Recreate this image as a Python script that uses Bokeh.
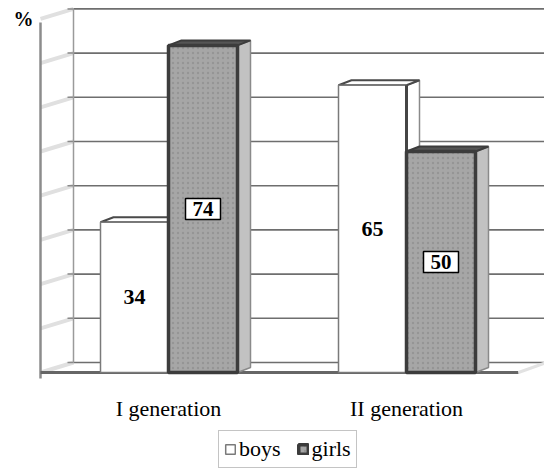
import numpy as np
from bokeh.plotting import figure
from bokeh.models import Range1d, Legend, LegendItem
from bokeh.core.properties import value
from bokeh.embed import file_html
from bokeh.resources import INLINE

# ---------------- data ----------------
categories = ["I generation", "II generation"]
series_names = ["boys", "girls"]
boys = [34, 65]
girls = [74, 50]
grid_ticks = [0, 10, 20, 30, 40, 50, 60, 70, 80]
unit_label = "%"

# ---------------- layout constants (pixels) ----------------
W, H = 544, 468
PX_PER_CAT = 238.0       # distance between category centres
PX_PER_PCT = 4.42        # pixels per percent
CAT0_PX = 168.0          # x of first category centre
ZERO_PY = 372.0          # y of value 0

x_start = 1 - CAT0_PX / PX_PER_CAT
x_end = x_start + W / PX_PER_CAT
y_start = (ZERO_PY - H) / PX_PER_PCT
y_end = ZERO_PY / PX_PER_PCT


def X(px):
    return x_start + px / PX_PER_CAT


def Y(py):
    return (ZERO_PY - py) / PX_PER_PCT


FONT = value("Liberation Serif")

p = figure(width=W, height=H, output_backend="svg", toolbar_location=None,
           x_range=Range1d(x_start, x_end), y_range=Range1d(y_start, y_end),
           min_border=0)
p.outline_line_color = None
p.grid.visible = False
p.axis.visible = False
p.background_fill_color = "white"
p.border_fill_color = "white"

# ---------------- walls ----------------
wall_dy = Y(362) - Y(372)
x_front = X(40)
x_back = X(73)
x_right = X(560)
ticks = np.array(grid_ticks, dtype=float)
n = len(ticks)

# faded slanted lines on the left wall
p.segment(x0=[x_front] * n, y0=ticks, x1=[x_back] * n, y1=ticks + wall_dy,
          line_color="#e0e0e0", line_width=4)
# back wall gridlines
p.segment(x0=[x_back] * n, y0=ticks + wall_dy, x1=[x_right] * n, y1=ticks + wall_dy,
          line_color="#6e6e6e", line_width=1.6)
# small tick marks at back wall left
p.segment(x0=[X(67)] * n, y0=ticks + wall_dy, x1=[x_back] * n, y1=ticks + wall_dy,
          line_color="#8a8a8a", line_width=1.5)
# back wall left edge
p.segment(x0=[x_back], y0=[ticks[0] + wall_dy], x1=[x_back], y1=[ticks[-1] + wall_dy],
          line_color="#9a9a9a", line_width=1.5)
# front left edge (axis)
p.segment(x0=[x_front], y0=[Y(378)], x1=[x_front], y1=[Y(22)],
          line_color="#8c8c8c", line_width=2.5)
# floor front edge
p.segment(x0=[x_front], y0=[0], x1=[X(518)], y1=[0], line_color="#666666", line_width=3)
p.segment(x0=[X(518)], y0=[0], x1=[X(546)], y1=[wall_dy], line_color="#e2e2e2", line_width=3)

# ---------------- 3D bars ----------------
cx = np.arange(1, len(categories) + 1, dtype=float)
bw_boys = 68 / PX_PER_CAT
bw_girls = 69 / PX_PER_CAT
dx = 13 / PX_PER_CAT
dy = 5 / PX_PER_PCT


def draw_bar_set(left, right, vals, front, side, top):
    vals = np.asarray(vals, dtype=float)
    side_xs = [[r, r + dx, r + dx, r] for r in right]
    side_ys = [[0, dy, v + dy, v] for v in vals]
    p.patches(side_xs, side_ys, **side)
    top_xs = [[l, l + dx, r + dx, r] for l, r in zip(left, right)]
    top_ys = [[v, v + dy, v + dy, v] for v in vals]
    p.patches(top_xs, top_ys, **top)
    return p.quad(left=left, right=right, bottom=0, top=vals, **front)


boys_left = cx - bw_boys
boys_right = cx
girls_left = cx
girls_right = cx + bw_girls

boys_front = draw_bar_set(boys_left, boys_right, boys,
                          front=dict(fill_color="white", line_color="#7a7a7a", line_width=1.5),
                          side=dict(fill_color="white", line_color="#8a8a8a", line_width=1.5),
                          top=dict(fill_color="white", line_color="#4a4a4a", line_width=2))
# dark right edge of boys front face
p.segment(x0=boys_right, y0=[0] * len(boys), x1=boys_right, y1=boys,
          line_color="#454545", line_width=3)

girls_front = draw_bar_set(girls_left, girls_right, girls,
                           front=dict(fill_color="#a6a6a6", line_color="#3c3c3c", line_width=3.5,
                                      hatch_pattern="dot", hatch_color="#959595", hatch_scale=5,
                                      hatch_weight=1.2),
                           side=dict(fill_color="#c2c2c2", line_color="#8a8a8a", line_width=1.5),
                           top=dict(fill_color="#555555", line_color="#3c3c3c", line_width=2))

# ---------------- value labels ----------------
boys_lbl_x = cx - bw_boys / 2
girls_lbl_x = cx + bw_girls / 2
p.text(x=boys_lbl_x, y=np.array(boys) / 2, text=[str(v) for v in boys],
       text_font=FONT, text_font_style="bold", text_font_size="22px",
       text_align="center", text_baseline="middle", text_color="black")
p.rect(x=girls_lbl_x, y=np.array(girls) / 2, width=35, height=21,
       width_units="screen", height_units="screen",
       fill_color="white", line_color="black", line_width=1.5)
p.text(x=girls_lbl_x, y=np.array(girls) / 2, text=[str(v) for v in girls],
       text_font=FONT, text_font_style="bold", text_font_size="21px",
       text_align="center", text_baseline="middle", text_color="black")

# "%" label
p.text(x=[X(23)], y=[Y(18)], text=[unit_label], text_font=FONT, text_font_style="bold",
       text_font_size="20px", text_align="center", text_baseline="middle", text_color="black")

# ---------------- category labels ----------------
p.text(x=cx, y=[Y(408)] * len(cx), text=categories, text_font=FONT,
       text_font_size="22px", text_align="center", text_baseline="alphabetic",
       text_color="black")

# ---------------- legend ----------------
legend = Legend(items=[LegendItem(label=series_names[0], renderers=[boys_front], index=0),
                       LegendItem(label=series_names[1], renderers=[girls_front], index=0)],
                orientation="horizontal", location=(218, 0),
                label_text_font="Liberation Serif", label_text_font_size="22px",
                label_text_color="black", glyph_width=12, glyph_height=12,
                label_standoff=3, spacing=16, padding=5, margin=0,
                border_line_color="#8a8a8a", border_line_width=1.5,
                background_fill_color="white", background_fill_alpha=1,
                label_height=20)
p.add_layout(legend, "center")

open("out.html", "w").write(file_html(p, INLINE))
